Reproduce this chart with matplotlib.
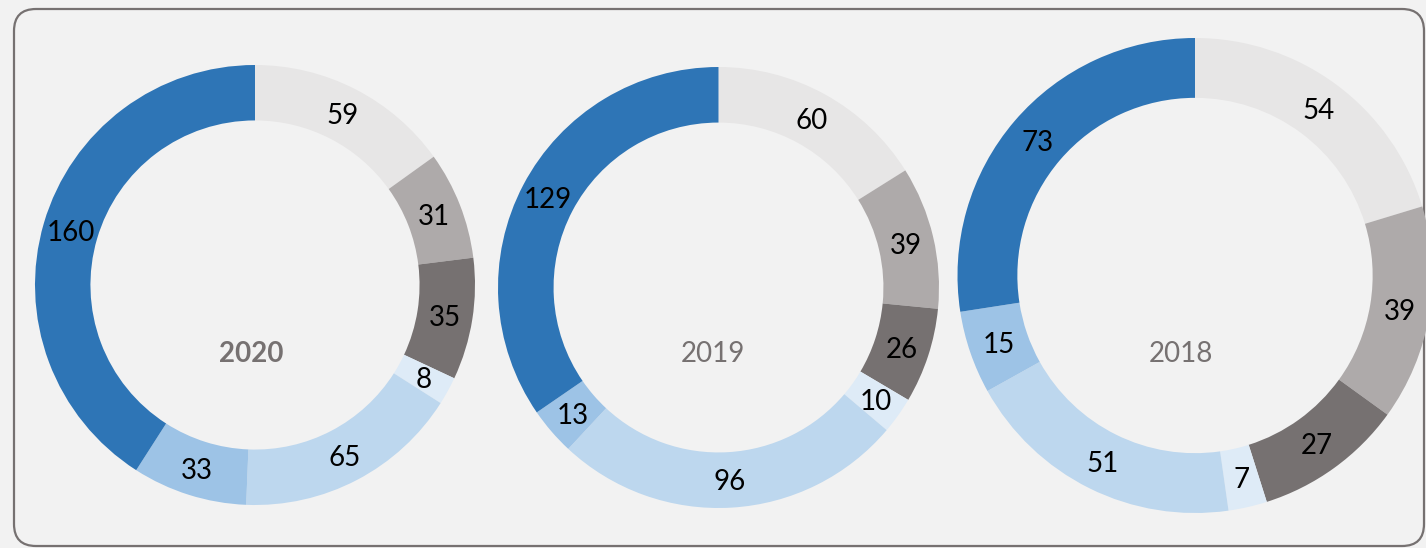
import matplotlib
matplotlib.use("Agg")
import matplotlib.pyplot as plt
from matplotlib.patches import FancyBboxPatch

# ---- data ----
years = ["2020", "2019", "2018"]
values_2020 = [59, 31, 35, 8, 65, 33, 160]
values_2019 = [60, 39, 26, 10, 96, 13, 129]
values_2018 = [54, 39, 27, 7, 51, 15, 73]
series = [values_2020, values_2019, values_2018]
bold_year = [True, False, False]

# ---- style ----
colors = ["#e7e6e6", "#aeaaaa", "#767171", "#deebf7", "#bdd7ee", "#9dc3e6", "#2e75b6"]
bg = "#f2f2f2"
W, H = 1426, 548
# layout in pixel coords (image y from top)
centers = [(255, 285), (718.5, 287.5), (1195, 275.5)]
radii = [220, 220.5, 237.5]
ring_frac = 0.252
year_pos = [(251, 351), (713, 351), (1181, 351)]

plt.rcParams['font.family'] = ['Lato', 'DejaVu Sans']

fig = plt.figure(figsize=(W / 100, H / 100), dpi=100)
fig.patch.set_facecolor(bg)
ax = fig.add_axes([0, 0, 1, 1])
ax.set_facecolor(bg)

border = FancyBboxPatch((14, H - 546), 1424 - 14, 546 - 9,
                        boxstyle="round,pad=0,rounding_size=22",
                        facecolor=bg, edgecolor="#767171", linewidth=1.6, zorder=1)
ax.add_patch(border)

for vals, (cx, cy), r, yr, (tx, ty), b in zip(series, centers, radii, years, year_pos, bold_year):
    c = (cx, H - cy)
    w = r * ring_frac
    wedges, _ = ax.pie(vals, colors=colors, startangle=90, counterclock=False,
                       center=c, radius=r, frame=True,
                       wedgeprops=dict(width=w, linewidth=0))
    for wd, v in zip(wedges, vals):
        wd.set_zorder(2)
        import numpy as np
        ang = np.deg2rad((wd.theta1 + wd.theta2) / 2)
        rm = r - w / 2
        ax.text(c[0] + rm * np.cos(ang), c[1] + rm * np.sin(ang), str(v),
                ha="center", va="center_baseline", fontsize=20, color="black", zorder=3)
    ax.text(tx, H - ty, yr, ha="center", va="center_baseline", fontsize=20,
            color="#767171", fontweight="bold" if b else "normal", zorder=3)

ax.set_xlim(0, W)
ax.set_ylim(0, H)
ax.set_aspect("equal")
ax.axis("off")

fig.savefig("out.png", dpi=100, facecolor=bg)
